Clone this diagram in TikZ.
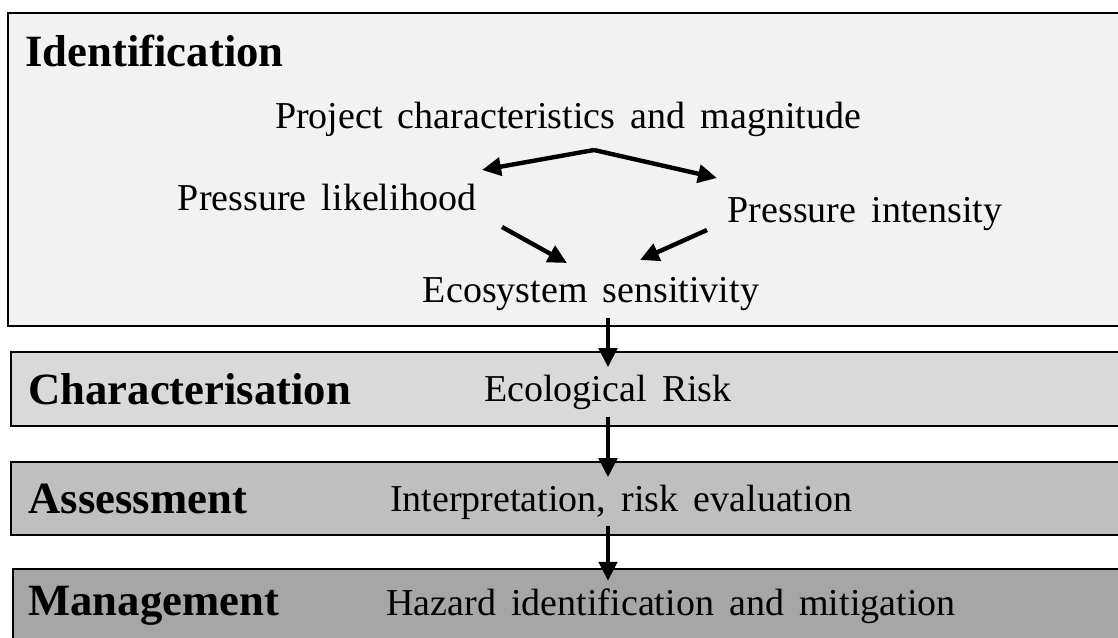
\documentclass[tikz,border=0pt]{standalone}
\usepackage{fontspec}
\setmainfont{Liberation Serif}[WordSpace=1.6]
\usepackage{tikz}
\usetikzlibrary{arrows.meta, positioning, calc}
\definecolor{identgray}{RGB}{242,242,242}
\definecolor{chargray}{RGB}{217,217,217}
\definecolor{assessgray}{RGB}{191,191,191}
\definecolor{managegray}{RGB}{166,166,166}

\begin{document}
\begin{tikzpicture}[
    x=0.5pt, y=-0.5pt,
    stagebox/.style={draw=black, line width=1pt},
    heading/.style={anchor=base west, inner sep=0pt,
        font=\fontsize{22.35pt}{26pt}\selectfont\bfseries},
    steptext/.style={anchor=base, inner sep=3.5pt,
        font=\fontsize{19pt}{22pt}\selectfont},
    arrow/.style={-{Triangle[length=9.5pt, width=9pt]}, line width=2.2pt}
]

% === FRAME ===
\useasboundingbox (0,0) rectangle (1118,637);
\clip (0,0) rectangle (1118,637);

% === STAGE BOXES ===
\draw[stagebox, fill=identgray]  (8,13)   rectangle (1130,326);
\draw[stagebox, fill=chargray]   (11,352) rectangle (1130,426);
\draw[stagebox, fill=assessgray] (11,462) rectangle (1130,535);
\draw[stagebox, fill=managegray] (13,569) rectangle (1130,660);

% === IDENTIFICATION ===
\node[heading] (identhead) at (25,66) {Identification};
\node[steptext] (proj)  at (568,128) {Project characteristics and magnitude};
\node[steptext] (like)  at (327,210) {Pressure likelihood};
\node[steptext] (inten) at (865,222) {Pressure intensity};
\node[steptext] (eco)   at (591,302) {Ecosystem sensitivity};

\coordinate (fork)     at (594,150);
\coordinate (likein)   at (482,170);
\coordinate (intenin)  at (717,178);
\coordinate (likeout)  at (502,227);
\coordinate (intenout) at (707,230);
\coordinate (ecoinL)   at (567,263);
\coordinate (ecoinR)   at (640,260);

% === CHARACTERISATION ===
\node[heading] (charhead) at (28,404) {Characterisation};
\node[steptext] (risk) at (608,401) {Ecological Risk};

% === ASSESSMENT ===
\node[heading] (assesshead) at (28,513) {Assessment};
\node[steptext] (interp) at (621,511) {Interpretation, risk evaluation};

% === MANAGEMENT ===
\node[heading] (managehead) at (28,615) {Management};
\node[steptext] (hazard) at (671,615) {Hazard identification and mitigation};

% Arrows
\draw[arrow] (fork) -- (likein);
\draw[arrow] (fork) -- (intenin);
\draw[arrow] (likeout) -- (ecoinL);
\draw[arrow] (intenout) -- (ecoinR);
\draw[arrow] (eco.south -| risk.north) -- (risk.north);
\draw[arrow] (risk.south) -- (risk.south |- interp.north);
\draw[arrow] (interp.south -| risk.south) -- (risk.south |- hazard.north);

\end{tikzpicture}
\end{document}
